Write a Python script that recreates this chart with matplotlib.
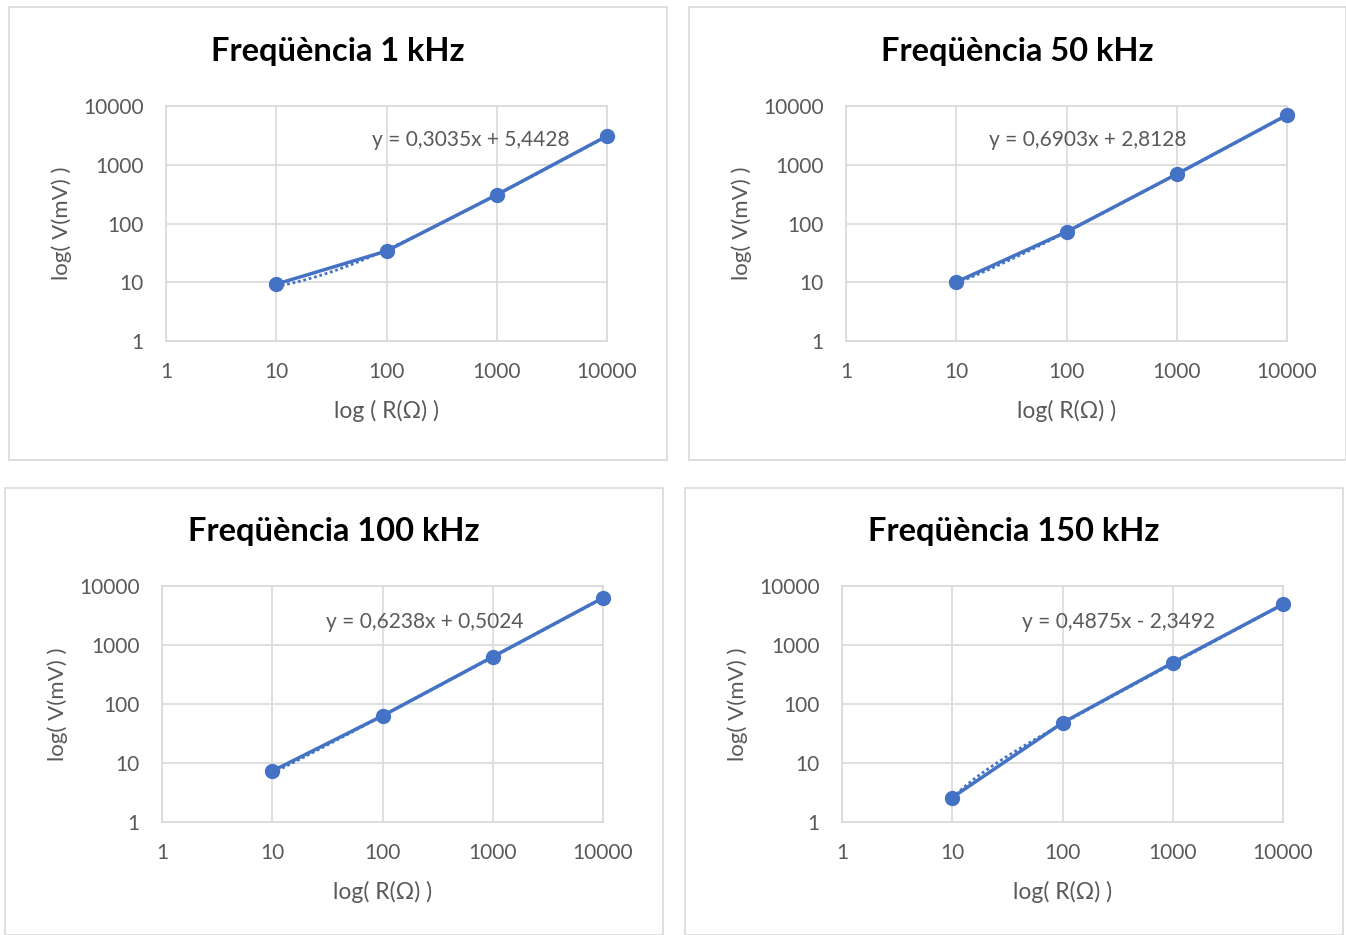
import numpy as np
import matplotlib.pyplot as plt
from matplotlib.patches import Rectangle

# resistencias (ohm) e tensoes lidas (mV)
resist = [10, 100, 1000, 10000]
v_1k = [9.3, 34, 308, 3090]
v_50k = [10.1, 72, 693, 7040]
v_100k = [7.3, 63, 630, 6300]
v_150k = [2.6, 48, 500, 4900]

# coeficientes das linhas de tendencia (Excel)
inclin = [0.3035, 0.6903, 0.6238, 0.4875]
interc = [5.4428, 2.8128, 0.5024, -2.3492]

titulos = ["Freqüència 1 kHz", "Freqüència 50 kHz", "Freqüència 100 kHz", "Freqüència 150 kHz"]
equacoes = ["y = 0,3035x + 5,4428", "y = 0,6903x + 2,8128",
            "y = 0,6238x + 0,5024", "y = 0,4875x - 2,3492"]
xlabels = ["log ( R(Ω) )", "log( R(Ω) )", "log( R(Ω) )", "log( R(Ω) )"]
ticks = [1, 10, 100, 1000, 10000]

W, H = 1346, 935
azul = "#4472C4"
cinza = "#595959"
plt.rcParams['font.family'] = ['Lato', 'DejaVu Sans']

fig = plt.figure(figsize=(W / 100, H / 100), dpi=100)

# caixas dos graficos (px): x0, y0, x1, y1
caixas = [(9, 7, 667, 460), (689, 7, 1346, 460), (5, 488, 663, 935), (685, 488, 1343, 935)]
eixos = [(166, 106, 607, 341), (846, 106, 1287, 341), (162, 586, 603, 822), (842, 586, 1283, 822)]
pos_eq = [(0.69, 0.855), (0.549, 0.855), (0.596, 0.847), (0.626, 0.847)]
dados = [v_1k, v_50k, v_100k, v_150k]

for i in range(4):
    x0, y0, x1, y1 = caixas[i]
    fig.patches.append(Rectangle((x0 / W, 1 - y1 / H), (x1 - x0) / W, (y1 - y0) / H,
                                 transform=fig.transFigure, fill=False,
                                 edgecolor="#d9d9d9", lw=1.2))
    fig.text((x0 + x1) / 2 / W, 1 - (y0 + 44) / H, titulos[i], ha="center", va="center",
             fontsize=23.5, fontweight="bold", color="black")

    ax0, ay0, ax1, ay1 = eixos[i]
    ax = fig.add_axes([ax0 / W, 1 - ay1 / H, (ax1 - ax0) / W, (ay1 - ay0) / H])
    ax.set_xscale("log")
    ax.set_yscale("log")
    ax.set_xlim(1, 10000)
    ax.set_ylim(1, 10000)
    ax.set_xticks(ticks)
    ax.set_yticks(ticks)
    ax.set_xticklabels([str(t) for t in ticks])
    ax.set_yticklabels([str(t) for t in ticks])
    ax.minorticks_off()
    ax.tick_params(length=0, labelsize=15, colors=cinza)
    ax.tick_params(axis="x", pad=15)
    ax.tick_params(axis="y", pad=16)
    ax.grid(True, color="#d9d9d9", lw=1.2)
    for s in ax.spines.values():
        s.set_color("#d9d9d9")
        s.set_linewidth(1.2)

    # linha de tendencia linear
    xs = np.logspace(1, 4, 200)
    ys = inclin[i] * xs + interc[i]
    ax.plot(xs, ys, color=azul, lw=2, ls=(0, (1, 1)), zorder=3)
    ax.plot(resist, dados[i], color=azul, lw=2.5, marker="o", markersize=10, zorder=4,
            clip_on=False)

    ax.text(pos_eq[i][0], pos_eq[i][1], equacoes[i], transform=ax.transAxes,
            ha="center", va="center", fontsize=15, color=cinza)
    ax.set_xlabel(xlabels[i], fontsize=16.5, color=cinza, labelpad=13)
    ax.set_ylabel("log( V(mV) )", fontsize=16, color=cinza, labelpad=8)

fig.savefig("out.png", dpi=100)
